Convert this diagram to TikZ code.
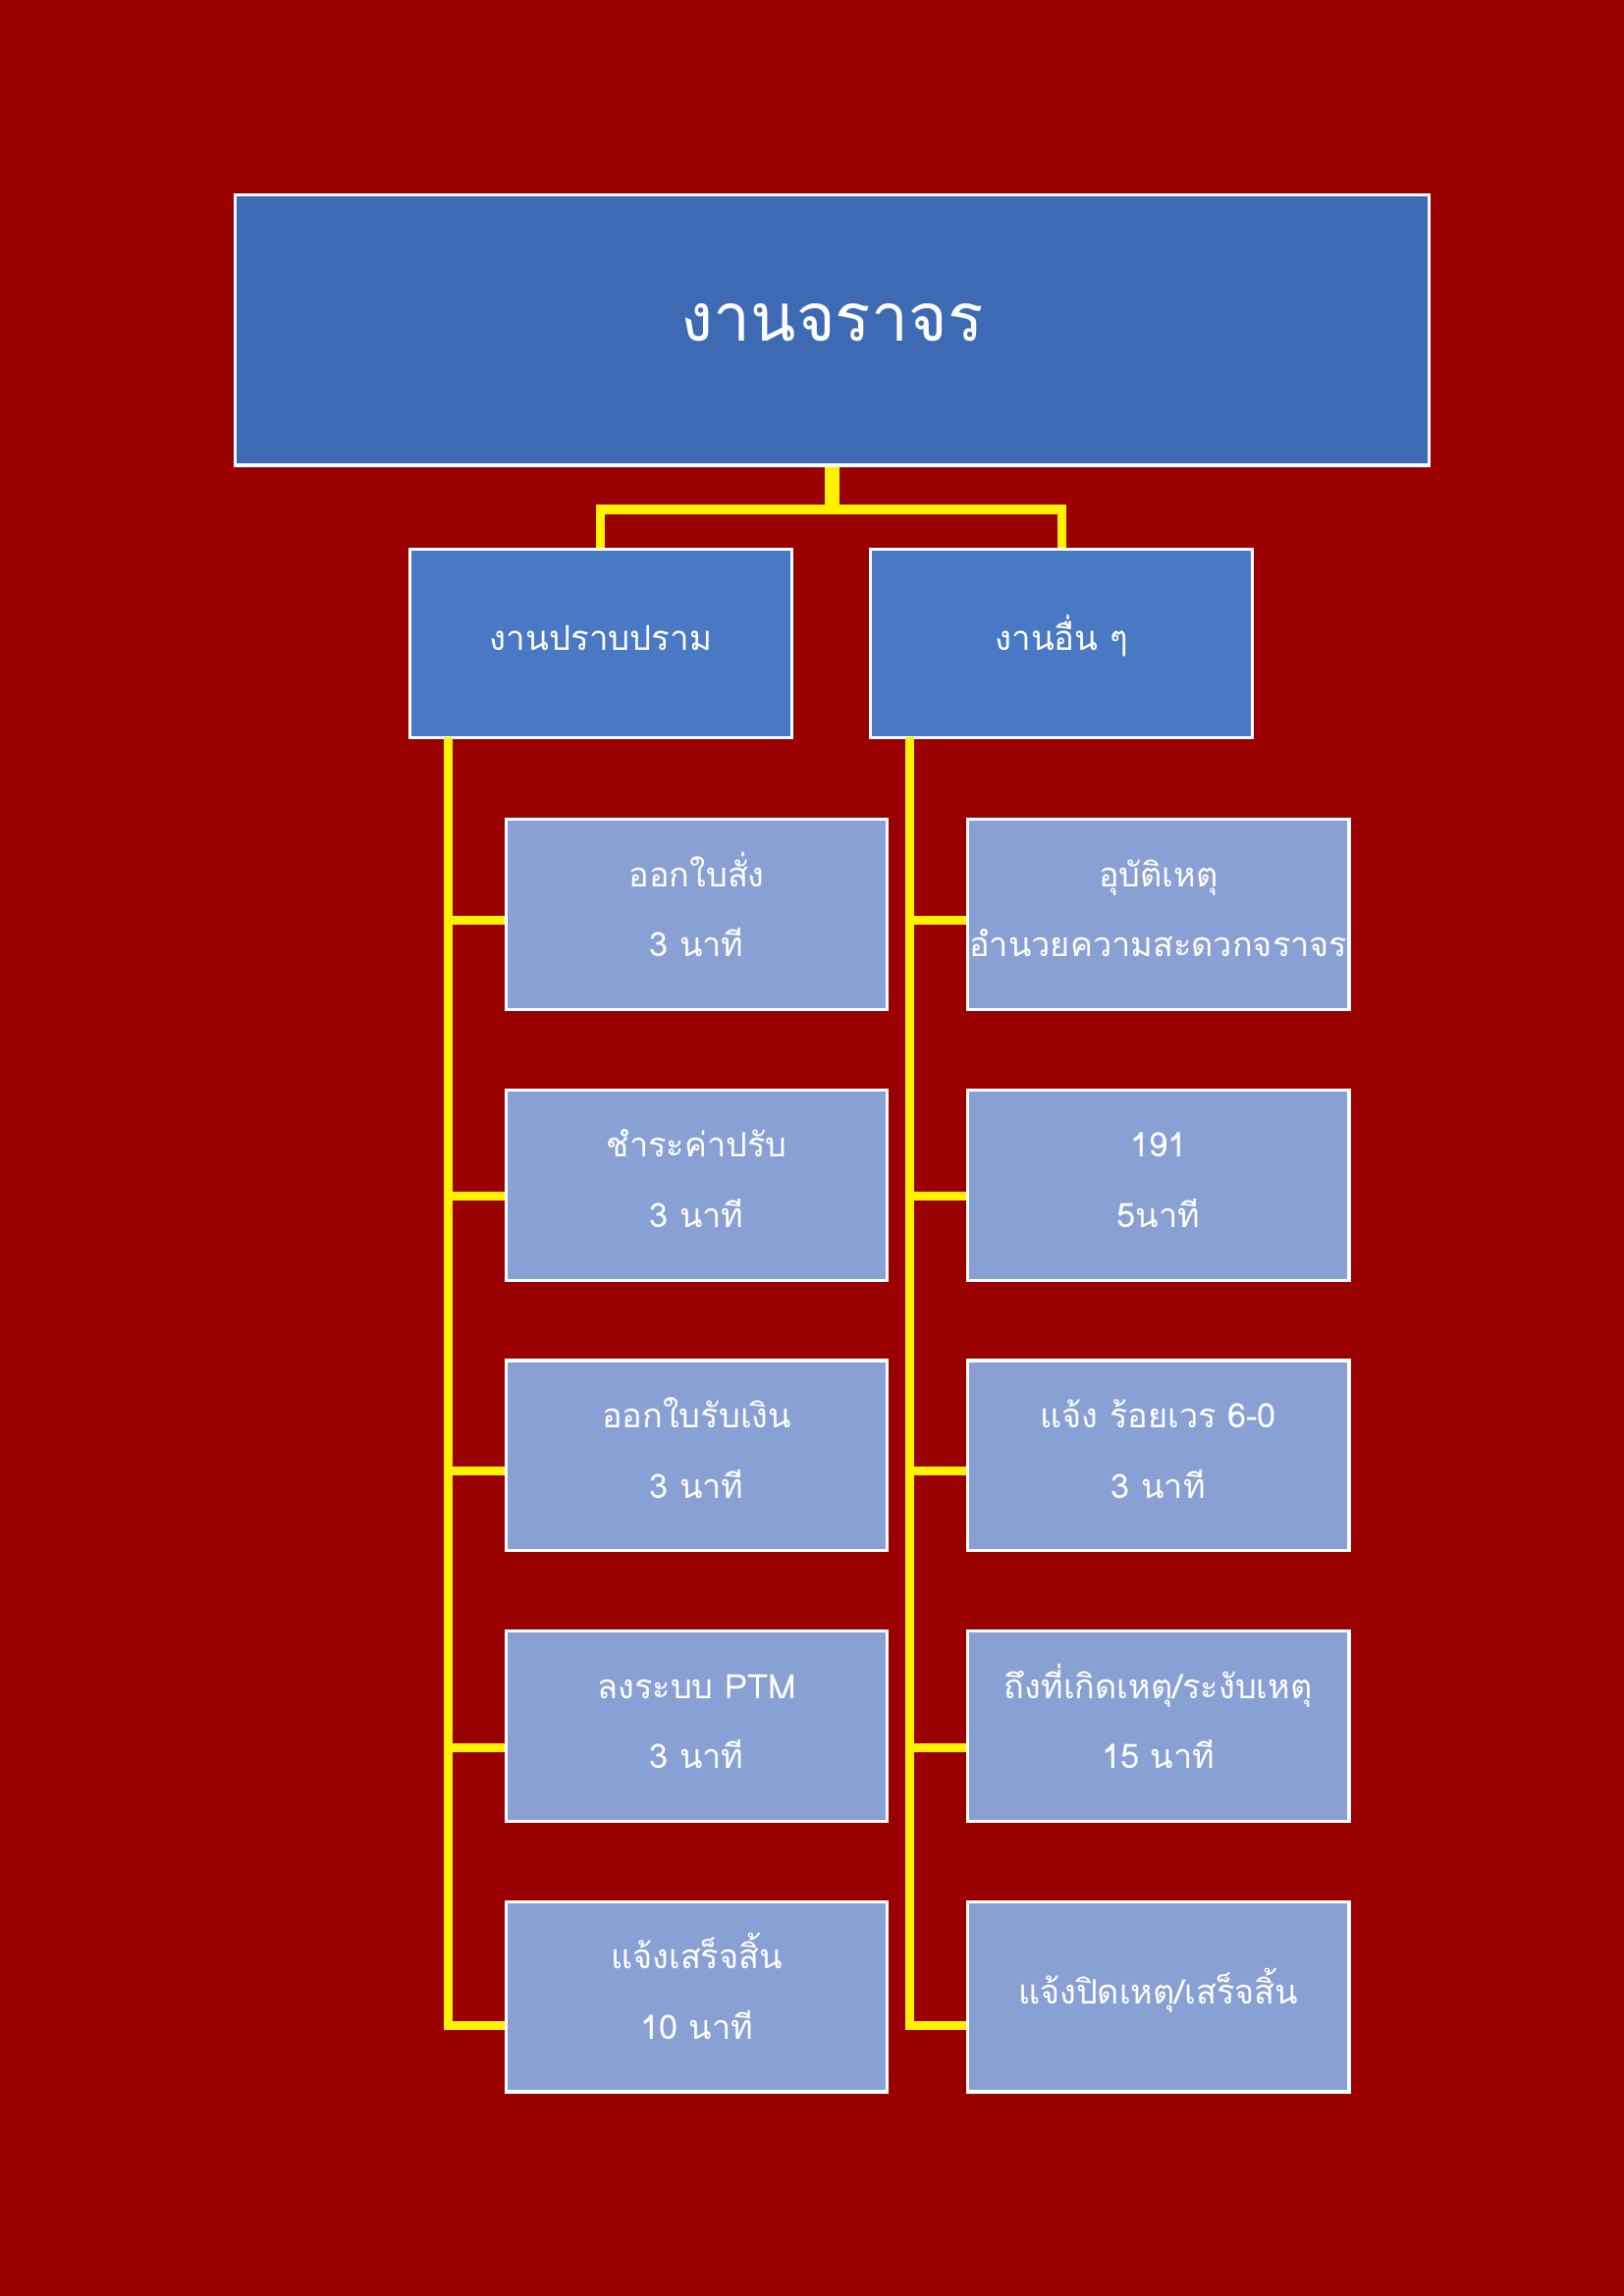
\documentclass[tikz,border=0pt]{standalone}
\usepackage{fontspec}
\newfontfamily\thaifont[Script=Thai]{Loma}
\definecolor{pagered}{RGB}{155,0,0}
\definecolor{headblue}{RGB}{62,106,179}
\definecolor{midblue}{RGB}{73,120,197}
\definecolor{leafblue}{RGB}{137,160,213}
\tikzset{
    topblock/.style = {draw=white, fill=headblue, rectangle, line width=1.2pt,
        minimum width=15.44cm,
        minimum height=3.5cm, align=center, text height=17pt, text depth=8.6pt,
        text=white, font=\thaifont\fontsize{24.5pt}{30pt}\selectfont},
    midblock/.style = {draw=white, fill=midblue, rectangle, line width=1.2pt,
        minimum width=4.94cm,
        minimum height=2.44cm, align=center, text height=9pt, text depth=3.4pt,
        text=white, font=\thaifont\fontsize{12.6pt}{18pt}\selectfont},
    leafblock/.style = {draw=white, fill=leafblue, rectangle, line width=1.2pt,
        text width=4.93cm,
        minimum height=2.46cm, align=center, inner sep=0pt,
        text height=9pt, text depth=29.5pt,
        text=white, font=\thaifont\fontsize{12.4pt}{25.9pt}\selectfont},
    singleleaf/.style = {leafblock, text height=9pt, text depth=3.4pt},
    link/.style = {draw=yellow, line width=3.3pt},
    trunk/.style = {draw=yellow, line width=5.4pt}
}

\begin{document}
\begin{tikzpicture}[node distance=3.5cm]
    \fill [pagered] (0,0) rectangle (21,-29.7);
    \useasboundingbox (0,0) rectangle (21,-29.7);
    \node [topblock] at (10.76,-4.27) (traffic) {งานจราจร};
    \node [midblock, below of=traffic, node distance=4.05cm, xshift=-2.99cm] (suppress) {งานปราบปราม};
    \node [midblock, below of=traffic, node distance=4.05cm, xshift=2.97cm] (others) {งานอื่น ๆ};
    \coordinate [below of=traffic, node distance=2.32cm] (fork);
    \draw [trunk] (traffic) -- (fork);
    \draw [link] (suppress) |- (fork) -| (others);
    % left column
    \node [leafblock, below of=suppress, node distance=3.51cm, xshift=1.24cm] (ticket) {ออกใบสั่ง\\3 นาที};
    \node [leafblock, below of=ticket] (fine) {ชำระค่าปรับ\\3 นาที};
    \node [leafblock, below of=fine] (receipt) {ออกใบรับเงิน\\3 นาที};
    \node [leafblock, below of=receipt] (ptm) {ลงระบบ PTM\\3 นาที};
    \node [leafblock, below of=ptm] (done) {แจ้งเสร็จสิ้น\\10 นาที};
    \coordinate [below of=suppress, node distance=1.22cm, xshift=-1.97cm] (spineL);
    \draw [link] (spineL) |- ([yshift=-0.07cm]ticket.west);
    \draw [link] (spineL) |- ([yshift=-0.14cm]fine.west);
    \draw [link] (spineL) |- ([yshift=-0.20cm]receipt.west);
    \draw [link] (spineL) |- ([yshift=-0.28cm]ptm.west);
    \draw [link] (spineL) |- ([yshift=-0.37cm]done.west);
    % right column
    \node [leafblock, below of=others, node distance=3.51cm, xshift=1.25cm] (accident) {อุบัติเหตุ\\อำนวยความสะดวกจราจร};
    \node [leafblock, below of=accident] (hotline) {191\\5นาที};
    \node [leafblock, below of=hotline] (radio) {แจ้ง ร้อยเวร 6-0\\3 นาที};
    \node [leafblock, below of=radio] (scene) {ถึงที่เกิดเหตุ/ระงับเหตุ\\15 นาที};
    \node [singleleaf, below of=scene] (close) {แจ้งปิดเหตุ/เสร็จสิ้น};
    \coordinate [below of=others, node distance=1.22cm, xshift=-1.97cm] (spineR);
    \draw [link] (spineR) |- ([yshift=-0.07cm]accident.west);
    \draw [link] (spineR) |- ([yshift=-0.14cm]hotline.west);
    \draw [link] (spineR) |- ([yshift=-0.20cm]radio.west);
    \draw [link] (spineR) |- ([yshift=-0.28cm]scene.west);
    \draw [link] (spineR) |- ([yshift=-0.37cm]close.west);
\end{tikzpicture}
\end{document}
